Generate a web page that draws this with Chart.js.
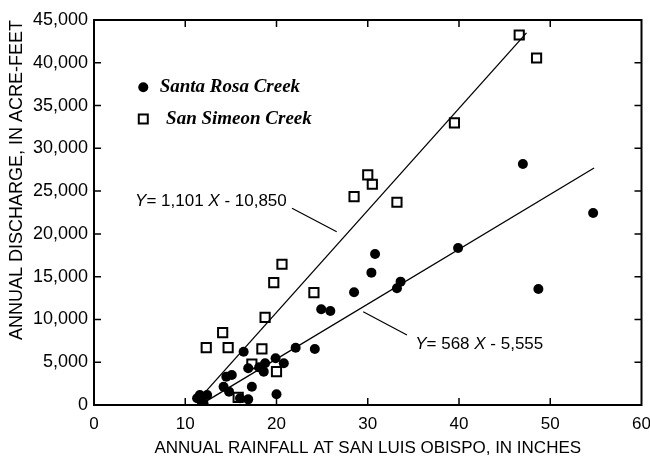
<!DOCTYPE html>
<html>
<head>
<meta charset="utf-8">
<script src="https://cdn.jsdelivr.net/npm/chart.js@4/dist/chart.umd.min.js"></script>
<style>
  body { margin: 0; background: #fff; }
</style>
</head>
<body>
<canvas id="myChart" width="650" height="463"></canvas>
<script>
// Santa Rosa Creek (filled circles)
const santaRosaX = [47.0, 54.7, 39.9, 48.7, 30.8, 30.4, 33.6, 33.2, 28.5, 24.9, 25.9, 22.1, 24.2, 19.9, 20.8,
  18.75, 18.6, 20.0, 16.4, 16.9, 18.1, 15.1, 14.5, 14.2, 14.8, 17.3, 11.6, 12.4, 11.3, 11.8, 16.0, 16.9, 12.0];
const santaRosaY = [28170, 22440, 18350, 13560, 17650, 15470, 14420, 13640, 13170, 11190, 10990, 6700, 6550, 5460, 4870,
  4870, 3900, 1250, 6230, 4290, 4400, 3510, 3310, 2140, 1560, 2140, 1170, 1170, 780, 390, 780, 660, 200];

// San Simeon Creek (open squares)
const sanSimeonX = [46.6, 48.5, 39.5, 30.0, 30.5, 33.2, 28.5, 20.6, 19.7, 24.1, 18.75, 14.1, 12.3, 14.7, 18.4, 17.3, 20.0, 15.8];
const sanSimeonY = [43250, 40560, 32970, 26900, 25800, 23700, 24350, 16450, 14300, 13130, 10250, 8450, 6700, 6700, 6550, 4790, 3900, 900];

// fitted lines, end points
const fitSimeonX = [11.6, 47.4];
const fitSimeonY = [800, 43500];
const fitRosaX = [12.0, 54.8];
const fitRosaY = [250, 27700];

const seriesNames = ['Santa Rosa Creek', 'San Simeon Creek'];
const eqSimeon = ['Y', '= 1,101 ', 'X', ' - 10,850'];
const eqRosa = ['Y', '= 568 ', 'X', ' - 5,555'];

const xTitle = 'ANNUAL RAINFALL AT SAN LUIS OBISPO, IN INCHES';
const yTitle = 'ANNUAL DISCHARGE, IN ACRE-FEET';

const narrow = "'Liberation Sans Narrow', 'Liberation Sans', sans-serif";

function pts(xs, ys) {
  return xs.map((v, i) => ({x: v, y: ys[i]}));
}

const framePlugin = {
  id: 'frame',
  afterDraw(chart) {
    const {ctx, chartArea: a, scales: {x, y}} = chart;
    ctx.save();
    ctx.strokeStyle = '#000';
    ctx.lineWidth = 2;
    ctx.strokeRect(a.left, a.top, a.right - a.left, a.bottom - a.top);

    // inward ticks on every side
    ctx.lineWidth = 1.5;
    ctx.beginPath();
    for (let v = 10; v < 60; v += 10) {
      const px = x.getPixelForValue(v);
      ctx.moveTo(px, a.bottom); ctx.lineTo(px, a.bottom - 7);
      ctx.moveTo(px, a.top); ctx.lineTo(px, a.top + 7);
    }
    for (let v = 5000; v < 45000; v += 5000) {
      const py = y.getPixelForValue(v);
      ctx.moveTo(a.left, py); ctx.lineTo(a.left + 7, py);
      ctx.moveTo(a.right, py); ctx.lineTo(a.right - 7, py);
    }
    ctx.stroke();

    // leader lines
    ctx.lineWidth = 1.2;
    ctx.beginPath();
    ctx.moveTo(x.getPixelForValue(21.7), y.getPixelForValue(23000));
    ctx.lineTo(x.getPixelForValue(26.6), y.getPixelForValue(20260));
    ctx.moveTo(x.getPixelForValue(29.5), y.getPixelForValue(10900));
    ctx.lineTo(x.getPixelForValue(34.3), y.getPixelForValue(8180));
    ctx.stroke();

    // equations
    ctx.fillStyle = '#000';
    ctx.textBaseline = 'middle';
    function eq(parts, xv, yv) {
      let px = x.getPixelForValue(xv);
      const py = y.getPixelForValue(yv);
      parts.forEach((t, i) => {
        ctx.font = (i % 2 === 0 ? 'italic ' : '') + '17px ' + narrow;
        ctx.fillText(t, px, py);
        px += ctx.measureText(t).width;
      });
    }
    eq(eqSimeon, 4.5, 23850);
    eq(eqRosa, 35.2, 7130);

    // legend
    ctx.font = "italic bold 19px 'Liberation Serif', serif";
    let lx = x.getPixelForValue(5.4);
    let ly = y.getPixelForValue(37150);
    ctx.beginPath();
    ctx.arc(lx, ly, 5, 0, Math.PI * 2);
    ctx.fill();
    ctx.fillText(seriesNames[0], x.getPixelForValue(7.2), ly);
    ly = y.getPixelForValue(33430);
    ctx.lineWidth = 2;
    ctx.strokeRect(lx - 4.5, ly - 4.5, 9, 9);
    ctx.fillText(seriesNames[1], x.getPixelForValue(7.9), ly);
    ctx.restore();
  }
};

new Chart(document.querySelector('#myChart'), {
  type: 'scatter',
  data: {
    datasets: [
      {
        label: seriesNames[0],
        data: pts(santaRosaX, santaRosaY),
        pointStyle: 'circle',
        pointRadius: 5,
        backgroundColor: '#000',
        borderColor: '#000',
        borderWidth: 0
      },
      {
        label: seriesNames[1],
        data: pts(sanSimeonX, sanSimeonY),
        pointStyle: 'rect',
        pointRadius: 6.5,
        backgroundColor: 'rgba(255,255,255,0)',
        borderColor: '#000',
        borderWidth: 2
      },
      {
        type: 'line',
        data: pts(fitSimeonX, fitSimeonY),
        borderColor: '#000',
        borderWidth: 1.3,
        pointRadius: 0,
        fill: false
      },
      {
        type: 'line',
        data: pts(fitRosaX, fitRosaY),
        borderColor: '#000',
        borderWidth: 1.3,
        pointRadius: 0,
        fill: false
      }
    ]
  },
  options: {
    responsive: false,
    animation: false,
    layout: { padding: { left: 0, right: 8, top: 20, bottom: 0 } },
    plugins: {
      legend: { display: false },
      tooltip: { enabled: false }
    },
    scales: {
      x: {
        type: 'linear',
        min: 0,
        max: 60,
        grid: { display: false, drawTicks: false },
        border: { display: false },
        ticks: { stepSize: 10, padding: 9, color: '#000', font: { family: narrow, size: 17 } },
        title: { display: true, text: xTitle, color: '#000', padding: { top: 0 }, font: { family: narrow, size: 17 } },
        afterFit(s) { s.height = 58; s.paddingLeft = 0; s.paddingRight = 8; }
      },
      y: {
        min: 0,
        max: 45000,
        grid: { display: false, drawTicks: false },
        border: { display: false },
        ticks: { stepSize: 5000, padding: 6, color: '#000', font: { family: narrow, size: 18 } },
        title: { display: true, text: yTitle, align: 'end', color: '#000', padding: { top: 6, bottom: 0 }, font: { family: narrow, size: 18 } },
        afterFit(s) { s.width = 94; s.paddingTop = 0; s.paddingBottom = 0; }
      }
    }
  },
  plugins: [framePlugin]
});
</script>
</body>
</html>
